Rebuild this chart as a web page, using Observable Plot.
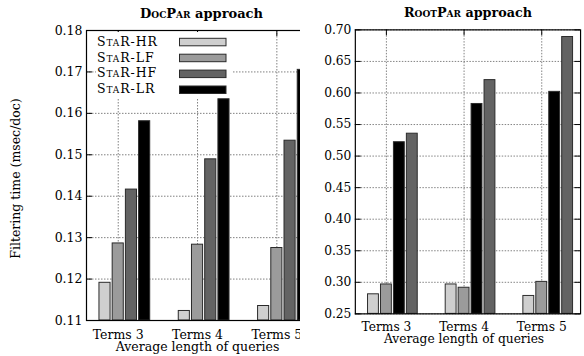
<!DOCTYPE html>
<html>
<head>
<meta charset="utf-8">
<script src="https://cdn.jsdelivr.net/npm/d3@7"></script>
<script src="https://cdn.jsdelivr.net/npm/@observablehq/plot@0.6"></script>
<style>
  html, body { margin: 0; padding: 0; background: #fff; }
  #wrap { position: relative; width: 584px; height: 356px; overflow: hidden; }
  .panel { position: absolute; top: 0; }
  .panel svg { display: block; }
  #legend { position: absolute; left: 0; top: 0; }
</style>
</head>
<body>
<div id="wrap">
  <div id="left" class="panel" style="left:0px"></div>
  <div id="right" class="panel" style="left:300px"></div>
  <svg id="legend" width="320" height="120"></svg>
</div>
<script>
// Query-length categories on the x axis
const categories = ["Terms 3", "Terms 4", "Terms 5"];
const series = ["StaR-HR", "StaR-LF", "StaR-HF", "StaR-LR"];
const seriesColors = ["#cfcfcf", "#9b9b9b", "#636363", "#000000"];

// DocPar approach: filtering time (msec/doc)
const docParHR = [0.1191, 0.1123, 0.1135];
const docParLF = [0.1286, 0.1283, 0.1275];
const docParHF = [0.1416, 0.1489, 0.1534];
const docParLR = [0.1581, 0.1634, 0.1705];
const docParOrder = ["StaR-HR", "StaR-LF", "StaR-HF", "StaR-LR"];
const docParTicks = [0.11, 0.12, 0.13, 0.14, 0.15, 0.16, 0.17, 0.18];

// RootPar approach: filtering time (msec/doc)
const rootParHR = [0.281, 0.2966, 0.2784];
const rootParLF = [0.2966, 0.2914, 0.3007];
const rootParHF = [0.5355, 0.6204, 0.6887];
const rootParLR = [0.522, 0.5826, 0.6018];
const rootParOrder = ["StaR-HR", "StaR-LF", "StaR-LR", "StaR-HF"];
const rootParTicks = [0.25, 0.30, 0.35, 0.40, 0.45, 0.50, 0.55, 0.60, 0.65, 0.70];

const colorOf = Object.fromEntries(series.map((s, i) => [s, seriesColors[i]]));
const FONT = "DejaVu Serif";
const gridStyle = {stroke: "#808080", strokeOpacity: 1, strokeDasharray: "1.5,1.5"};

function panel({values, order, ticks, method, width, marginLeft, marginRight, yLabel}) {
  const frameW = width - marginLeft - marginRight;
  const marginTop = 30, marginBottom = 36, height = 356;
  const frameH = height - marginTop - marginBottom;
  const step = 1 / 6, barW = 0.14, tickLen = 6;
  const rows = categories.flatMap((c, i) =>
    order.map((s, j) => ({cat: i, slot: j, series: s, value: values[s][i]})));
  const catIdx = categories.map((c, i) => i);
  const y0 = ticks[0];
  const title = method + " approach";
  const marks = [
    Plot.gridY(ticks, gridStyle),
    Plot.gridX(catIdx, gridStyle),
    Plot.tickY(ticks, {y: d => d, insetRight: frameW - tickLen, stroke: "black"}),
    Plot.tickY(ticks, {y: d => d, insetLeft: frameW - tickLen, stroke: "black"}),
    Plot.tickX(catIdx, {x: d => d, insetBottom: frameH - tickLen, stroke: "black"}),
    Plot.tickX(catIdx, {x: d => d, insetTop: frameH - tickLen, stroke: "black"}),
    Plot.rect(rows, {
      x1: d => d.cat + (d.slot - 1) * step - barW / 2,
      x2: d => d.cat + (d.slot - 1) * step + barW / 2,
      y1: () => y0,
      y2: "value",
      fill: d => colorOf[d.series],
      stroke: "#2a2a2a",
      strokeWidth: 1
    }),
    Plot.axisY(ticks, {tickSize: 0, tickPadding: 4, tickFormat: d => d.toFixed(2), label: null, fontSize: 12.5}),
    Plot.text(categories, {x: (d, i) => i, frameAnchor: "bottom", lineAnchor: "bottom", dy: 18, fontSize: 12.5}),
    Plot.text([1], {x: d => d, text: () => "Average length of queries", frameAnchor: "bottom", lineAnchor: "bottom", dy: 30, fontSize: 12.5}),
    Plot.text([title], {text: d => d, frameAnchor: "top", lineAnchor: "bottom", dy: -12.7, fontWeight: "bold", fontSize: 13}),
    Plot.frame({stroke: "black", strokeWidth: 1.2})
  ];
  if (yLabel) {
    marks.push(Plot.text([yLabel], {text: d => d, frameAnchor: "left", textAnchor: "middle", lineAnchor: "middle", rotate: -90, dx: -71, dy: 3, fontSize: 12.5}));
  }
  const svg = Plot.plot({
    width, height, marginTop, marginBottom, marginLeft, marginRight,
    style: {fontFamily: FONT, fontSize: "12.5px", color: "black", background: "white", overflow: "visible"},
    x: {type: "linear", domain: [-0.4, 2.5], axis: null},
    y: {type: "linear", domain: [ticks[0], ticks[ticks.length - 1]]},
    marks
  });
  // set the method name of the title in small capitals
  d3.select(svg).selectAll("text").filter(function () { return this.textContent === title; })
    .each(function () {
      const t = d3.select(this);
      t.text(null);
      t.append("tspan").attr("font-variant", "small-caps").text(method);
      t.append("tspan").text(" approach");
    });
  return svg;
}

document.getElementById("left").append(panel({
  values: {"StaR-HR": docParHR, "StaR-LF": docParLF, "StaR-HF": docParHF, "StaR-LR": docParLR},
  order: docParOrder, ticks: docParTicks, method: "DocPar",
  width: 320, marginLeft: 86, marginRight: 4, yLabel: "Filtering time (msec/doc)"
}));

document.getElementById("right").append(panel({
  values: {"StaR-HR": rootParHR, "StaR-LF": rootParLF, "StaR-HF": rootParHF, "StaR-LR": rootParLR},
  order: rootParOrder, ticks: rootParTicks, method: "RootPar",
  width: 290, marginLeft: 56, marginRight: 4
}));

// Key box inside the DocPar panel
const legend = d3.select("#legend");
legend.append("rect").attr("x", 96).attr("y", 32).attr("width", 136).attr("height", 66).attr("fill", "white");
const row = legend.selectAll("g.row").data(series).join("g")
  .attr("class", "row")
  .attr("transform", (d, i) => `translate(0,${i * 15.9})`);
row.append("text")
  .attr("x", 97).attr("y", 45.7)
  .attr("font-family", FONT).attr("font-size", 12.5)
  .attr("font-variant", "small-caps").attr("letter-spacing", 0.9)
  .text(d => d);
row.append("rect")
  .attr("x", 179.5).attr("y", 38.3).attr("width", 46.5).attr("height", 7.5)
  .attr("fill", d => colorOf[d]).attr("stroke", "#2a2a2a").attr("stroke-width", 1);
</script>
</body>
</html>
